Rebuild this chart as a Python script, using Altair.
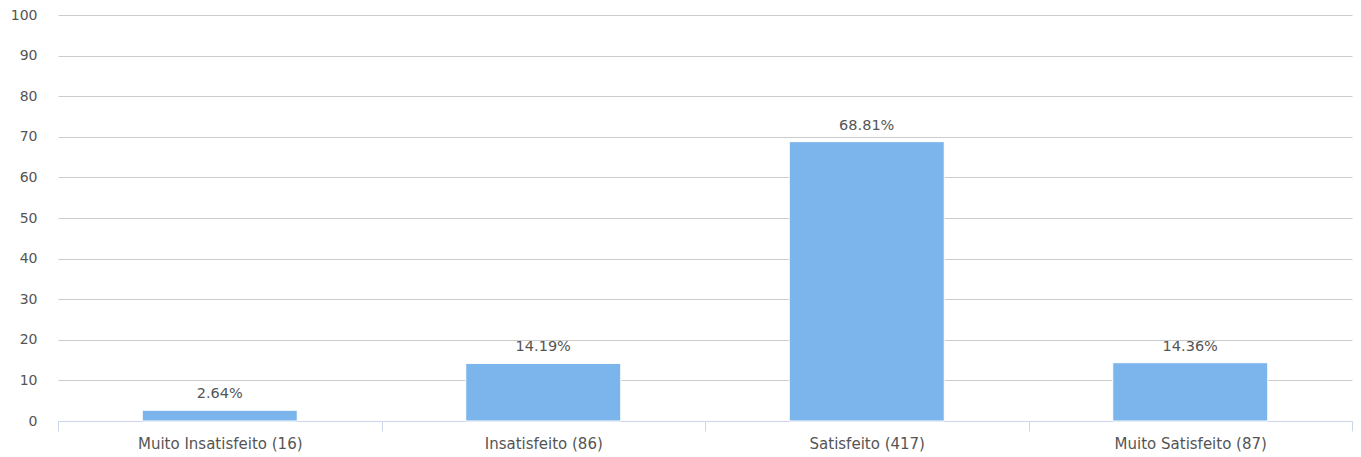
import altair as alt
import pandas as pd

categories = ["Muito Insatisfeito (16)", "Insatisfeito (86)", "Satisfeito (417)", "Muito Satisfeito (87)"]
values = [2.64, 14.19, 68.81, 14.36]
labels = ["2.64%", "14.19%", "68.81%", "14.36%"]

df = pd.DataFrame({"cat": categories, "val": values, "lab": labels})

FONT = "DejaVu Sans"

x = alt.X("cat:N", sort=categories,
          scale=alt.Scale(paddingInner=0, paddingOuter=0),
          axis=alt.Axis(title=None, labelAngle=0, tickBand="extent", tickSize=10,
                        tickColor="#ccd6eb", domainColor="#ccd6eb", labelPadding=5,
                        labelFont=FONT, labelFontSize=15, labelColor="#555555", grid=False))
y = alt.Y("val:Q", scale=alt.Scale(domain=[0, 100], nice=False),
          axis=alt.Axis(title=None, values=list(range(0, 101, 10)), domain=False, ticks=False,
                        gridColor="#cccccc", labelPadding=21, labelFont=FONT,
                        labelFontSize=14, labelColor="#555555"))

bars = alt.Chart(df).mark_bar(size=155, color="#7cb5ec", stroke="white", strokeWidth=1).encode(x=x, y=y)
text = alt.Chart(df).mark_text(dy=-16, font=FONT, fontSize=14.5, color="#555555").encode(
    x=x, y=y, text="lab:N")

chart = alt.layer(bars, text).properties(
    width=1294, height=406,
    autosize=alt.AutoSizeParams(type="none"),
    padding={"left": 50, "top": 7, "right": 1, "bottom": 34},
).configure(background="white").configure_view(stroke=None)

chart.save("out.html", embed_options={"renderer": "svg", "actions": False})
